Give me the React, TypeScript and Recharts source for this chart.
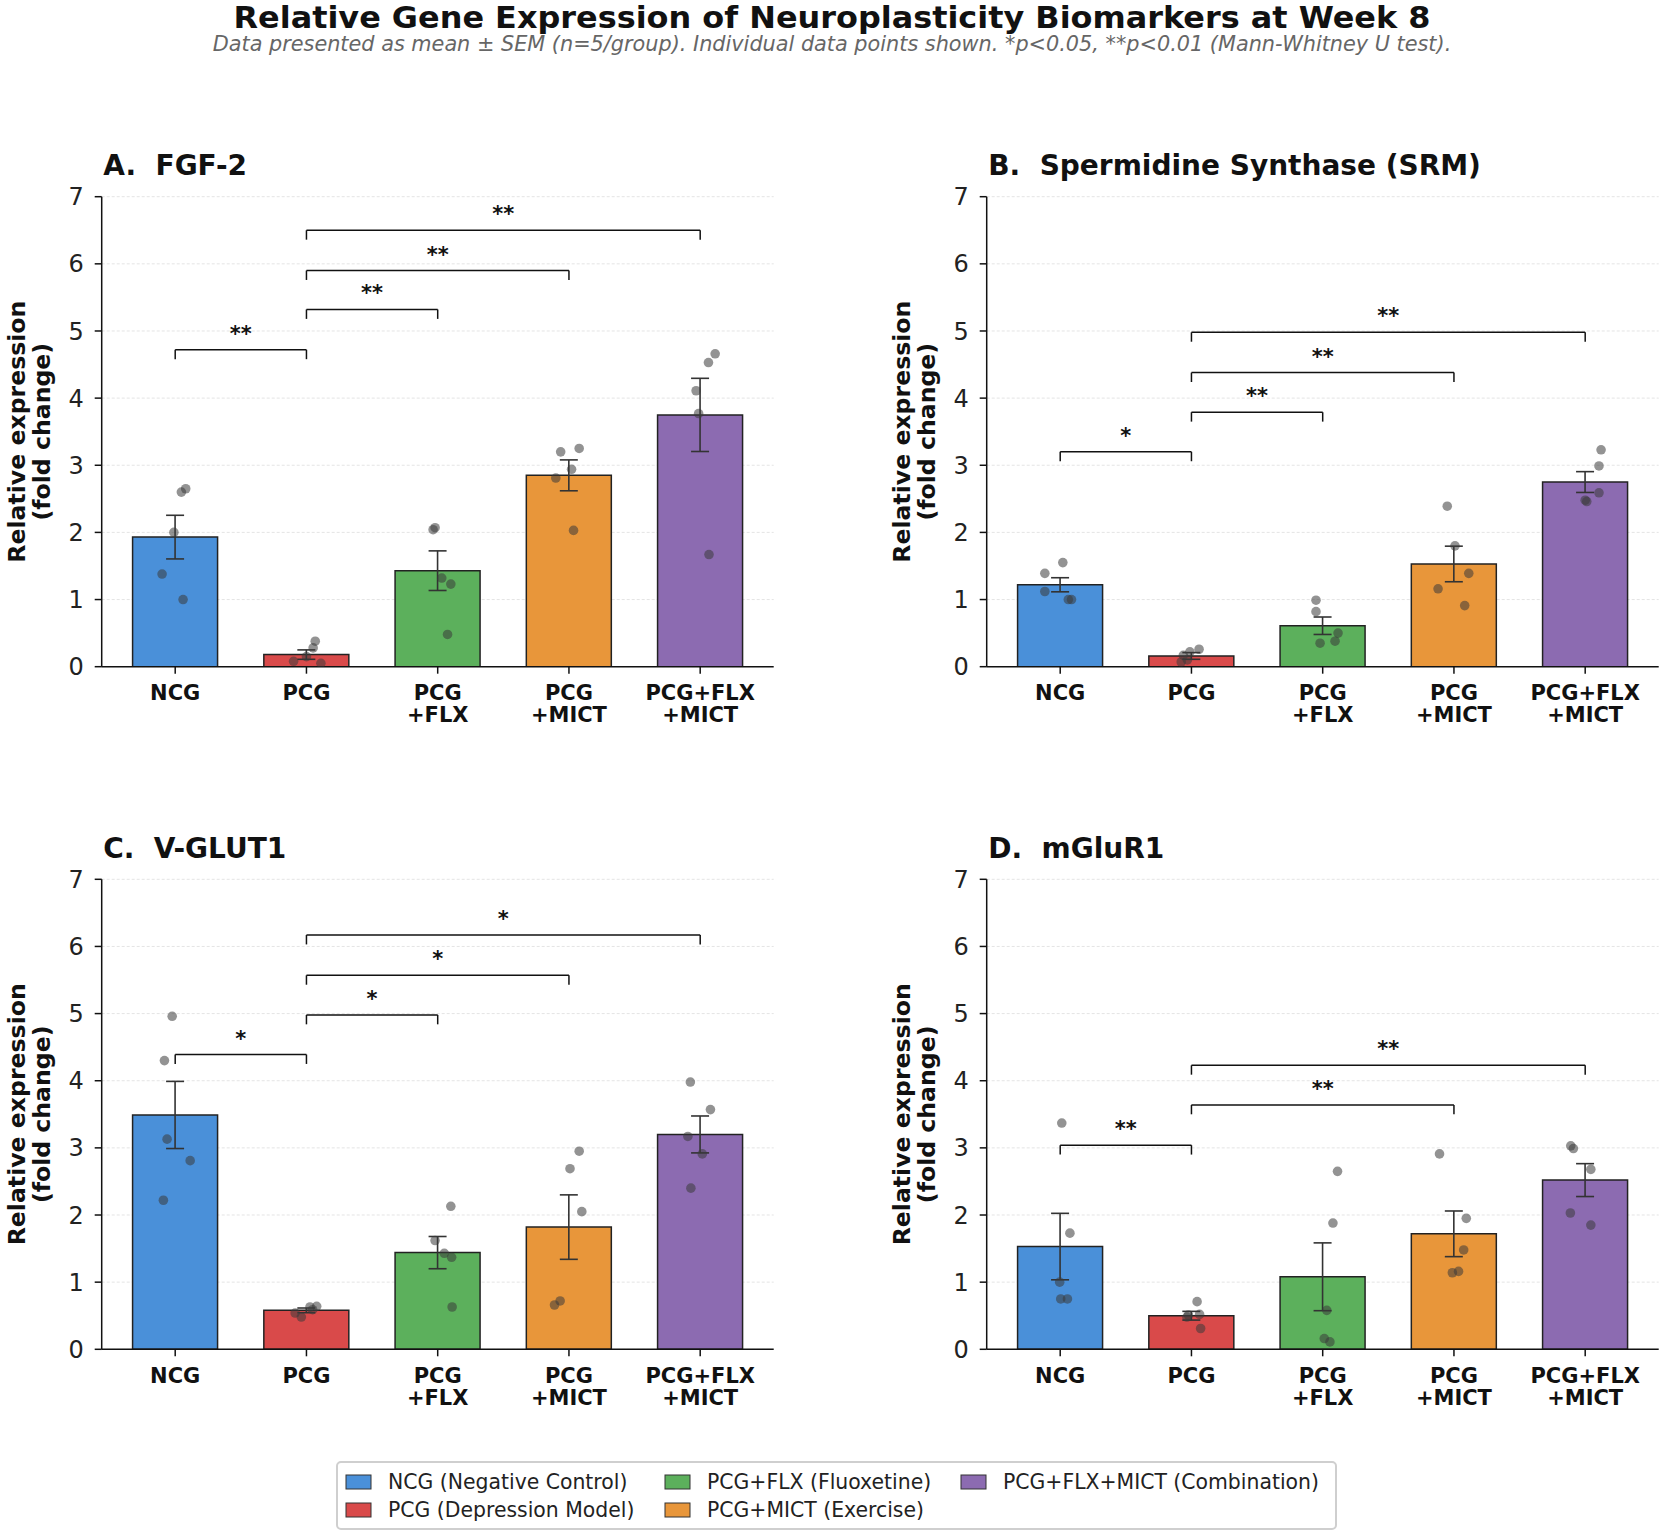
import React from "react";
import {
  ComposedChart,
  Bar,
  Cell,
  ErrorBar,
  Scatter,
  XAxis,
  YAxis,
  CartesianGrid,
  ReferenceLine,
} from "recharts";

// groups, in plotting order
const GROUPS = ["NCG", "PCG", "PCG+FLX", "PCG+MICT", "PCG+FLX+MICT"];
const TICK_LINES = [["NCG"], ["PCG"], ["PCG", "+FLX"], ["PCG", "+MICT"], ["PCG+FLX", "+MICT"]];
const LEGEND_NAMES = [
  "NCG (Negative Control)",
  "PCG (Depression Model)",
  "PCG+FLX (Fluoxetine)",
  "PCG+MICT (Exercise)",
  "PCG+FLX+MICT (Combination)",
];
const COLORS = ["#4A90D9", "#D94A4A", "#5CB05C", "#E8963A", "#8C6BB1"];
const Y_TICKS = [0, 1, 2, 3, 4, 5, 6, 7];

// A. FGF-2
const FGF2_MEAN = [1.93, 0.18, 1.43, 2.85, 3.75];
const FGF2_SEM = [0.325, 0.07, 0.295, 0.23, 0.545];
const FGF2_POINTS = [
  [2.65, 2.6, 2.0, 1.38, 1.0],
  [0.38, 0.28, 0.15, 0.08, 0.05],
  [2.07, 2.04, 1.32, 1.23, 0.48],
  [3.25, 3.2, 2.94, 2.81, 2.03],
  [4.66, 4.53, 4.11, 3.77, 1.67],
];
const FGF2_JITTER = [
  [0.08, 0.047, -0.01, -0.1, 0.06],
  [0.067, 0.051, 0, -0.098, 0.11],
  [-0.02, -0.035, 0.031, 0.1, 0.075],
  [0.078, -0.063, 0.02, -0.1, 0.035],
  [0.114, 0.063, -0.031, -0.012, 0.067],
];
const FGF2_SIG = [
  { from: 0, to: 1, y: 4.72, stars: "**" },
  { from: 1, to: 2, y: 5.32, stars: "**" },
  { from: 1, to: 3, y: 5.9, stars: "**" },
  { from: 1, to: 4, y: 6.5, stars: "**" },
];

// B. SRM
const SRM_MEAN = [1.22, 0.16, 0.61, 1.53, 2.75];
const SRM_SEM = [0.105, 0.05, 0.13, 0.265, 0.155];
const SRM_POINTS = [
  [1.55, 1.39, 1.12, 1.0, 1.0],
  [0.26, 0.22, 0.17, 0.1, 0.07],
  [0.99, 0.82, 0.5, 0.38, 0.35],
  [2.39, 1.8, 1.39, 1.16, 0.91],
  [3.23, 2.99, 2.59, 2.48, 2.46],
];
const SRM_JITTER = [
  [0.02, -0.117, -0.117, 0.062, 0.086],
  [0.058, -0.012, -0.062, -0.031, -0.078],
  [-0.051, -0.051, 0.117, 0.094, -0.02],
  [-0.051, 0.008, 0.113, -0.121, 0.082],
  [0.121, 0.105, 0.105, 0, 0.012],
];
const SRM_SIG = [
  { from: 0, to: 1, y: 3.2, stars: "*" },
  { from: 1, to: 2, y: 3.79, stars: "**" },
  { from: 1, to: 3, y: 4.38, stars: "**" },
  { from: 1, to: 4, y: 4.98, stars: "**" },
];

// C. V-GLUT1
const VGLUT_MEAN = [3.49, 0.58, 1.44, 1.82, 3.2];
const VGLUT_SEM = [0.5, 0.035, 0.24, 0.48, 0.275];
const VGLUT_POINTS = [
  [4.96, 4.3, 3.13, 2.81, 2.22],
  [0.64, 0.63, 0.59, 0.54, 0.48],
  [2.13, 1.62, 1.43, 1.37, 0.63],
  [2.95, 2.69, 2.05, 0.72, 0.66],
  [3.98, 3.57, 3.17, 2.91, 2.4],
];
const VGLUT_JITTER = [
  [-0.023, -0.082, -0.062, 0.114, -0.09],
  [0.078, 0.027, 0.047, -0.086, -0.039],
  [0.1, -0.02, 0.05, 0.106, 0.11],
  [0.078, 0.008, 0.098, -0.067, -0.11],
  [-0.075, 0.078, -0.094, 0.016, -0.071],
];
const VGLUT_SIG = [
  { from: 0, to: 1, y: 4.39, stars: "*" },
  { from: 1, to: 2, y: 4.98, stars: "*" },
  { from: 1, to: 3, y: 5.57, stars: "*" },
  { from: 1, to: 4, y: 6.17, stars: "*" },
];

// D. mGluR1
const MGLUR_MEAN = [1.53, 0.5, 1.08, 1.72, 2.52];
const MGLUR_SEM = [0.495, 0.065, 0.505, 0.34, 0.245];
const MGLUR_POINTS = [
  [3.37, 1.73, 1.0, 0.75, 0.75],
  [0.71, 0.52, 0.51, 0.48, 0.31],
  [2.65, 1.88, 0.58, 0.16, 0.11],
  [2.91, 1.95, 1.48, 1.16, 1.14],
  [3.03, 2.99, 2.68, 2.03, 1.85],
];
const MGLUR_JITTER = [
  [0.012, 0.074, -0.004, 0.004, 0.055],
  [0.043, 0.062, -0.023, -0.035, 0.07],
  [0.113, 0.078, 0.031, 0.012, 0.055],
  [-0.11, 0.094, 0.074, 0.035, -0.012],
  [-0.11, -0.09, 0.043, -0.113, 0.043],
];
const MGLUR_SIG = [
  { from: 0, to: 1, y: 3.04, stars: "**" },
  { from: 1, to: 3, y: 3.64, stars: "**" },
  { from: 1, to: 4, y: 4.23, stars: "**" },
];

const FONT = "'DejaVu Sans', sans-serif";
const PLOT_H = 470;
const AXIS_W = 60;
const MARGIN_L = 41.7;
const X_AXIS_H = 60;
const BRACKET_DROP = 0.14;
// numeric x range shared by the hidden axis; the category axis is padded to line up with it
const X_DOMAIN = [-0.56, 4.56];
const PLOT_W = 672;
const CAT_PAD = (PLOT_W - (PLOT_W / (X_DOMAIN[1] - X_DOMAIN[0])) * GROUPS.length) / 2;

const PANELS = [
  { title: "A.  FGF-2", mean: FGF2_MEAN, sem: FGF2_SEM, points: FGF2_POINTS, jitter: FGF2_JITTER, sig: FGF2_SIG, left: 0, top: 150, width: 800, mt: 46.7, mr: 26.3 },
  { title: "B.  Spermidine Synthase (SRM)", mean: SRM_MEAN, sem: SRM_SEM, points: SRM_POINTS, jitter: SRM_JITTER, sig: SRM_SIG, left: 885, top: 150, width: 780, mt: 46.7, mr: 6.3 },
  { title: "C.  V-GLUT1", mean: VGLUT_MEAN, sem: VGLUT_SEM, points: VGLUT_POINTS, jitter: VGLUT_JITTER, sig: VGLUT_SIG, left: 0, top: 820, width: 800, mt: 59.3, mr: 26.3 },
  { title: "D.  mGluR1", mean: MGLUR_MEAN, sem: MGLUR_SEM, points: MGLUR_POINTS, jitter: MGLUR_JITTER, sig: MGLUR_SIG, left: 885, top: 820, width: 780, mt: 59.3, mr: 6.3 },
];

function GroupTick(props: any) {
  const { x, y, payload } = props;
  const lines = TICK_LINES[GROUPS.indexOf(payload.value)] || [];
  return (
    <text x={x} y={y} textAnchor="middle" fontSize={21} fontWeight="bold" fill="#111" fontFamily={FONT}>
      {lines.map((l, i) => (
        <tspan key={i} x={x} dy={i === 0 ? 24.4 : 22.3}>
          {l}
        </tspan>
      ))}
    </text>
  );
}

function Dot(props: any) {
  return <circle cx={props.cx} cy={props.cy} r={4.8} fill="#3a3a3a" fillOpacity={0.55} />;
}

function Panel({ cfg }: { cfg: any }) {
  const rows = GROUPS.map((g, i) => ({ pos: i, group: g, mean: cfg.mean[i], sem: cfg.sem[i] }));
  const pts = cfg.points.flatMap((vals: number[], i: number) =>
    vals.map((v, k) => ({ pos: i + cfg.jitter[i][k], val: v }))
  );
  const height = cfg.mt + PLOT_H + X_AXIS_H + 10;
  const lineStyle = { stroke: "#111", strokeWidth: 1.5 };

  return (
    <div style={{ position: "absolute", left: cfg.left, top: cfg.top }}>
      <ComposedChart
        width={cfg.width}
        height={height}
        data={rows}
        margin={{ top: cfg.mt, right: cfg.mr, left: MARGIN_L, bottom: 10 }}
      >
        <CartesianGrid vertical={false} stroke="#e4e4e4" strokeDasharray="3 2" />
        <XAxis
          dataKey="group"
          interval={0}
          padding={{ left: CAT_PAD, right: CAT_PAD }}
          height={X_AXIS_H}
          tickSize={7}
          axisLine={lineStyle}
          tickLine={lineStyle}
          tick={(p: any) => <GroupTick {...p} />}
        />
        <XAxis xAxisId="num" type="number" dataKey="pos" domain={X_DOMAIN} allowDataOverflow hide />
        <YAxis
          domain={[0, 7]}
          ticks={Y_TICKS}
          interval={0}
          allowDataOverflow
          width={AXIS_W}
          tickSize={7}
          tickMargin={11}
          axisLine={lineStyle}
          tickLine={lineStyle}
          tick={{ fontSize: 24, fill: "#222", fontFamily: FONT }}
        />
        <Bar dataKey="mean" barSize={85} stroke="#222" strokeWidth={1.5} isAnimationActive={false}>
          {rows.map((r, i) => (
            <Cell key={r.group} fill={COLORS[i]} />
          ))}
          <ErrorBar dataKey="sem" direction="y" width={9} stroke="#333" strokeWidth={1.6} />
        </Bar>
        <Scatter
          xAxisId="num"
          data={pts}
          dataKey="val"
          shape={(p: any) => <Dot {...p} />}
          isAnimationActive={false}
        />
        {cfg.sig.flatMap((b: any, i: number) => [
          <ReferenceLine
            key={`h${i}`}
            xAxisId="num"
            segment={[{ x: b.from, y: b.y }, { x: b.to, y: b.y }]}
            {...lineStyle}
            label={{ value: b.stars, position: "top", offset: 9, fontSize: 21, fontWeight: "bold", fill: "#111", fontFamily: FONT }}
          />,
          <ReferenceLine key={`l${i}`} xAxisId="num" segment={[{ x: b.from, y: b.y - BRACKET_DROP }, { x: b.from, y: b.y }]} {...lineStyle} />,
          <ReferenceLine key={`r${i}`} xAxisId="num" segment={[{ x: b.to, y: b.y - BRACKET_DROP }, { x: b.to, y: b.y }]} {...lineStyle} />,
        ])}
      </ComposedChart>
    </div>
  );
}

// legend layout: three columns, filled column by column
const LEGEND_COLS = [346, 665, 961];
const LEGEND_ROWS = [1482, 1510];

function Overlay() {
  return (
    <svg
      width={1665}
      height={1532}
      style={{ position: "absolute", left: 0, top: 0, pointerEvents: "none", fontFamily: FONT }}
    >
      <text
        x={832}
        y={28}
        textAnchor="middle"
        fontSize={30}
        fontWeight="bold"
        fill="#111"
        textLength={1197}
        lengthAdjust="spacingAndGlyphs"
      >
        Relative Gene Expression of Neuroplasticity Biomarkers at Week 8
      </text>
      <text x={832} y={51} textAnchor="middle" fontSize={20.8} fontStyle="italic" fill="#666">
        Data presented as mean ± SEM (n=5/group). Individual data points shown. *p&lt;0.05, **p&lt;0.01 (Mann-Whitney U test).
      </text>
      {PANELS.map((cfg) => {
        const axisX = cfg.left + MARGIN_L + AXIS_W;
        const midY = cfg.top + cfg.mt + PLOT_H / 2;
        return (
          <g key={cfg.title}>
            <text x={axisX + 1.5} y={cfg.top + cfg.mt - 21.7} fontSize={28} fontWeight="bold" fill="#111" style={{ whiteSpace: "pre" }}>
              {cfg.title}
            </text>
            <text
              x={axisX - 84.5}
              y={midY}
              dy="0.35em"
              textAnchor="middle"
              fontSize={23.6}
              fontWeight="bold"
              fill="#111"
              transform={`rotate(-90 ${axisX - 84.5} ${midY})`}
            >
              Relative expression
            </text>
            <text
              x={axisX - 60}
              y={midY}
              dy="0.35em"
              textAnchor="middle"
              fontSize={23.6}
              fontWeight="bold"
              fill="#111"
              transform={`rotate(-90 ${axisX - 60} ${midY})`}
            >
              (fold change)
            </text>
          </g>
        );
      })}
      <rect x={337} y={1462} width={999} height={67} rx={4} fill="#fff" stroke="#cfcfcf" strokeWidth={2} />
      {LEGEND_NAMES.map((name, i) => {
        const cx = LEGEND_COLS[Math.floor(i / 2)];
        const cy = LEGEND_ROWS[i % 2];
        return (
          <g key={name}>
            <rect x={cx} y={cy - 7} width={25} height={14} fill={COLORS[i]} stroke="#333" strokeWidth={1} />
            <text x={cx + 42} y={cy} dy="0.36em" fontSize={20.4} fill="#222">
              {name}
            </text>
          </g>
        );
      })}
    </svg>
  );
}

export default function App() {
  return (
    <div
      style={{
        position: "absolute",
        left: 0,
        top: 0,
        width: 1665,
        height: 1532,
        background: "#fff",
        overflow: "hidden",
        fontFamily: FONT,
      }}
    >
      {PANELS.map((cfg) => (
        <Panel key={cfg.title} cfg={cfg} />
      ))}
      <Overlay />
    </div>
  );
}
